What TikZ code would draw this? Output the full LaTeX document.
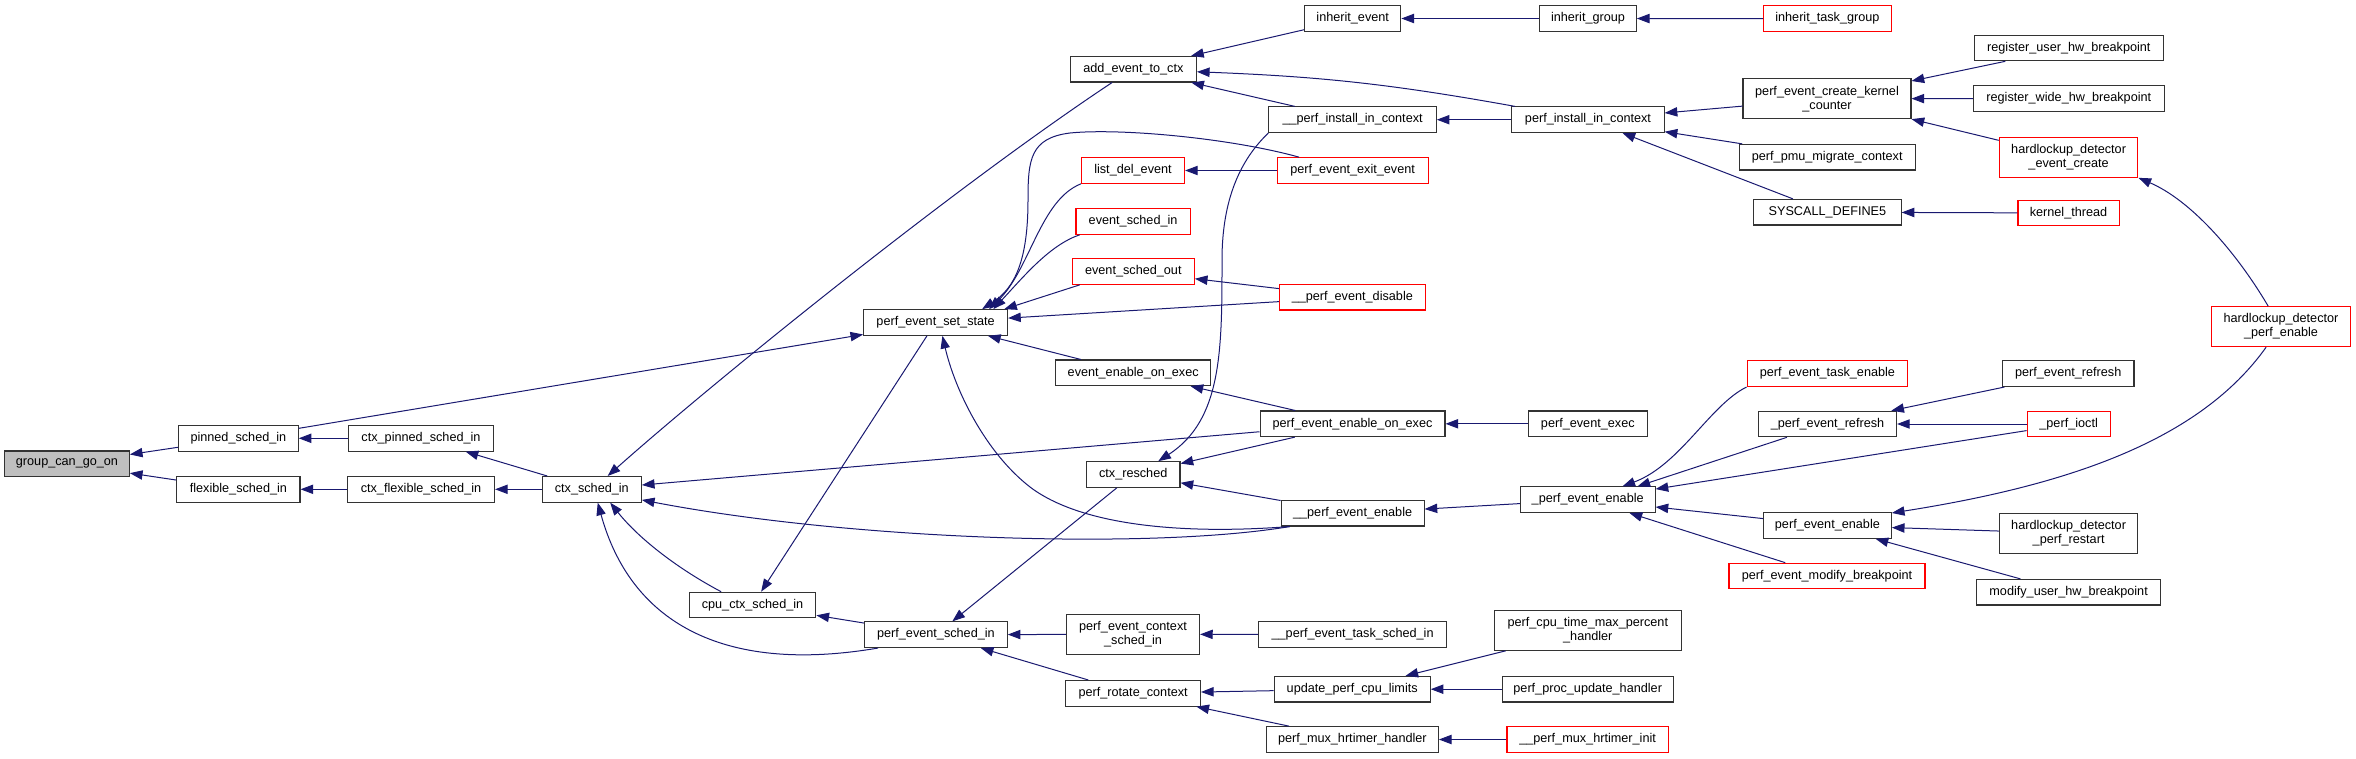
\documentclass[tikz,border=0pt]{standalone}
\usepackage{fontspec}
\setmainfont{Liberation Sans}
\usetikzlibrary{arrows.meta}
\definecolor{edgeblue}{HTML}{191970}
\definecolor{rootgray}{HTML}{BFBFBF}
\newcommand{\fnfont}{\fontsize{9.5}{10.5}\selectfont}

\begin{document}
\begin{tikzpicture}[x=0.75pt, y=0.75pt,
    fn/.style={draw=black!80, fill=white, line width=0.8pt, minimum height=19.2pt, inner xsep=2pt, inner ysep=1pt, font=\fnfont},
    trunc/.style={fn, draw=red},
    root/.style={fn, fill=rootgray},
    twoline/.style={align=center, minimum height=30pt},
    wd/.style={minimum width=#1pt},
    call/.style={draw=edgeblue, line width=0.75pt, -{Triangle[length=9.5pt, width=7pt]}}]
    \useasboundingbox (0,0) rectangle (2356,-759);

    % root and first callers
    \node[root, wd=93.5] (group) at (67,-463.8) {group\_can\_go\_on};
    \node[fn, wd=89.7] (pinned) at (238.4,-438.3) {pinned\_sched\_in};
    \node[fn, wd=92.4] (flexible) at (238.4,-489.3) {flexible\_sched\_in};
    \node[fn, wd=108.2] (ctxpinned) at (421,-438.3) {ctx\_pinned\_sched\_in};
    \node[fn, wd=110.3] (ctxflexible) at (421,-489.3) {ctx\_flexible\_sched\_in};
    \node[fn, wd=74.3] (ctxsched) at (591.8,-489.3) {ctx\_sched\_in};
    \node[fn, wd=95] (cpuctx) at (752.5,-605) {cpu\_ctx\_sched\_in};
    \node[fn, wd=107.9] (setstate) at (935.6,-322.5) {perf\_event\_set\_state};
    \node[fn, wd=107] (schedin) at (935.9,-634.7) {perf\_event\_sched\_in};

    % column of add_event_to_ctx
    \node[fn, wd=94.5] (addevent) at (1133.4,-69.2) {add\_event\_to\_ctx};
    \node[trunc, wd=77.3] (listdel) at (1133,-170.5) {list\_del\_event};
    \node[trunc, wd=85.7] (eventschedin) at (1133.1,-221.5) {event\_sched\_in};
    \node[trunc, wd=91.5] (eventschedout) at (1133.3,-271.5) {event\_sched\_out};
    \node[fn, wd=116.1] (enableonexec) at (1133.2,-372.8) {event\_enable\_on\_exec};
    \node[fn, wd=70.2] (ctxresched) at (1133.2,-474.5) {ctx\_resched};
    \node[fn, twoline, wd=99.8] (contextschedin) at (1133,-634.3) {perf\_event\_context\\\_sched\_in};
    \node[fn, wd=101] (rotate) at (1133.1,-693.3) {perf\_rotate\_context};

    % column of __perf_install_in_context
    \node[fn, wd=72.2] (inheritevent) at (1352.7,-18.5) {inherit\_event};
    \node[fn, wd=125.5] (installctx) at (1352.6,-119.7) {\_\_perf\_install\_in\_context};
    \node[trunc, wd=113.3] (exitevent) at (1352.6,-170.5) {perf\_event\_exit\_event};
    \node[trunc, wd=109.5] (disable) at (1352.3,-297.2) {\_\_perf\_event\_disable};
    \node[fn, wd=138.7] (pfenableonexec) at (1352.5,-423.8) {perf\_event\_enable\_on\_exec};
    \node[fn, wd=107.2] (pfenable) at (1352.6,-513.2) {\_\_perf\_event\_enable};
    \node[fn, wd=140.8] (tasksched) at (1352.6,-634.5) {\_\_perf\_event\_task\_sched\_in};
    \node[fn, wd=117] (cpulimits) at (1352.2,-689.2) {update\_perf\_cpu\_limits};
    \node[fn, wd=128.9] (muxhandler) at (1352.4,-739.5) {perf\_mux\_hrtimer\_handler};

    % column of perf_install_in_context
    \node[fn, wd=72.5] (inheritgroup) at (1588,-18.5) {inherit\_group};
    \node[fn, wd=114.2] (install) at (1588,-119.7) {perf\_install\_in\_context};
    \node[fn, wd=89.4] (exec) at (1587.8,-423.8) {perf\_event\_exec};
    \node[fn, wd=101] (uenable) at (1587.7,-499.7) {\_perf\_event\_enable};
    \node[fn, twoline, wd=140.3] (maxpercent) at (1587.8,-630.3) {perf\_cpu\_time\_max\_percent\\\_handler};
    \node[fn, wd=128] (procupdate) at (1587.7,-689.2) {perf\_proc\_update\_handler};
    \node[trunc, wd=120.9] (muxinit) at (1587.6,-739.5) {\_\_perf\_mux\_hrtimer\_init};

    % column of perf_event_create_kernel_counter
    \node[trunc, wd=95.8] (inherittask) at (1827.4,-18.7) {inherit\_task\_group};
    \node[fn, twoline, wd=126] (kcounter) at (1827,-98.7) {perf\_event\_create\_kernel\\\_counter};
    \node[fn, wd=132] (migrate) at (1827.2,-157.2) {perf\_pmu\_migrate\_context};
    \node[fn, wd=110.5] (syscall) at (1827.4,-212.2) {SYSCALL\_DEFINE5};
    \node[trunc, wd=120.5] (taskenable) at (1827.4,-373.7) {perf\_event\_task\_enable};
    \node[fn, wd=103.5] (urefresh) at (1827.5,-424) {\_perf\_event\_refresh};
    \node[fn, wd=95.8] (enable) at (1827.4,-525.5) {perf\_event\_enable};
    \node[trunc, wd=147] (modifybp) at (1827,-576) {perf\_event\_modify\_breakpoint};

    % outer callers
    \node[fn, wd=141.5] (reguser) at (2068.8,-48) {register\_user\_hw\_breakpoint};
    \node[fn, wd=143.3] (regwide) at (2068.8,-98.5) {register\_wide\_hw\_breakpoint};
    \node[trunc, twoline, wd=104] (hdcreate) at (2068.6,-157.3) {hardlockup\_detector\\\_event\_create};
    \node[trunc, wd=75.8] (kthread) at (2068.5,-213) {kernel\_thread};
    \node[fn, wd=98.7] (refresh) at (2068.2,-373.7) {perf\_event\_refresh};
    \node[trunc, wd=62.2] (ioctl) at (2068.6,-424) {\_perf\_ioctl};
    \node[fn, twoline, wd=104] (hdrestart) at (2068.6,-533.3) {hardlockup\_detector\\\_perf\_restart};
    \node[fn, wd=138.2] (modifyuser) at (2068.6,-592.2) {modify\_user\_hw\_breakpoint};
    \node[trunc, twoline, wd=104.6] (hdenable) at (2281,-326.7) {hardlockup\_detector\\\_perf\_enable};

    % calls into the left part
    \draw[call] (pinned) -- (group);
    \draw[call] (flexible) -- (group);
    \draw[call] (ctxpinned) -- (pinned);
    \draw[call] (ctxflexible) -- (flexible);
    \draw[call] (ctxsched) -- (ctxpinned);
    \draw[call] (ctxsched) -- (ctxflexible);
    \draw[call] (pinned) -- (setstate);
    \draw[call] (setstate) -- (cpuctx);
    \draw[call] (schedin) -- (cpuctx);
    \draw[call] (cpuctx.157) .. controls (680,-570) and (640,-540) .. (ctxsched.-36);
    \draw[call] (schedin.-167) .. controls (720,-675) and (630,-620) .. (ctxsched.-66);
    \draw[call] (addevent.212) .. controls (950,-190) and (710,-385) .. (ctxsched.40);
    \draw[call] (pfenableonexec) -- (ctxsched);
    \draw[call] (pfenable.192) .. controls (1150,-550) and (850,-540) .. (ctxsched.-12);

    % calls into perf_event_set_state
    \draw[call] (exitevent.166) .. controls (1230,-138) and (1120,-128) .. (1070,-133)
        .. controls (1030,-138) and (1028,-160) .. (1028,-200)
        .. controls (1028,-260) and (1015,-288) .. (setstate.16);
    \draw[call] (listdel.south west) .. controls (1040,-200) and (1030,-270) .. (setstate.14);
    \draw[call] (eventschedin.194) .. controls (1050,-245) and (1025,-275) .. (setstate.13);
    \draw[call] (eventschedout.194) -- (setstate.11);
    \draw[call] (disable) -- (setstate);
    \draw[call] (enableonexec) -- (setstate);
    \draw[call] (pfenable.192) .. controls (1180,-535) and (1080,-525) .. (1030,-487)
        .. controls (985,-452) and (955,-390) .. (setstate.-63);

    % middle part
    \draw[call] (inheritevent) -- (addevent);
    \draw[call] (installctx) -- (addevent);
    \draw[call] (install) to[bend right=4] (addevent);
    \draw[call] (inheritgroup) -- (inheritevent);
    \draw[call] (inherittask) -- (inheritgroup);
    \draw[call] (install) -- (installctx);
    \draw[call] (exitevent) -- (listdel);
    \draw[call] (disable) -- (eventschedout);
    \draw[call] (pfenableonexec) -- (enableonexec);
    \draw[call] (pfenableonexec) -- (ctxresched);
    \draw[call] (exec) -- (pfenableonexec);
    \draw[call] (installctx.-171) .. controls (1240,-160) and (1222,-200) .. (1222,-260)
        .. controls (1222,-350) and (1222,-420) .. (ctxresched.28);
    \draw[call] (pfenable) -- (ctxresched);
    \draw[call] (ctxresched) -- (schedin);
    \draw[call] (contextschedin) -- (schedin);
    \draw[call] (rotate) -- (schedin);
    \draw[call] (tasksched) -- (contextschedin);
    \draw[call] (cpulimits) -- (rotate);
    \draw[call] (muxhandler) -- (rotate);
    \draw[call] (maxpercent) -- (cpulimits);
    \draw[call] (procupdate) -- (cpulimits);
    \draw[call] (muxinit) -- (muxhandler);
    \draw[call] (uenable) -- (pfenable);

    % right part
    \draw[call] (kcounter) -- (install);
    \draw[call] (migrate) -- (install);
    \draw[call] (syscall) -- (install);
    \draw[call] (reguser) -- (kcounter);
    \draw[call] (regwide) -- (kcounter);
    \draw[call] (hdcreate) -- (kcounter);
    \draw[call] (kthread) -- (syscall);
    \draw[call] (hdenable.122) .. controls (2235,-250) and (2190,-200) .. (hdcreate.south east);
    \draw[call] (taskenable.south west) .. controls (1710,-405) and (1680,-465) .. (uenable.21);
    \draw[call] (urefresh) -- (uenable.15);
    \draw[call] (ioctl) -- (uenable);
    \draw[call] (enable) -- (uenable);
    \draw[call] (modifybp) -- (uenable);
    \draw[call] (refresh) -- (urefresh);
    \draw[call] (ioctl) -- (urefresh);
    \draw[call] (hdenable.-126) .. controls (2200,-440) and (2070,-485) .. (enable.11);
    \draw[call] (hdrestart) -- (enable);
    \draw[call] (modifyuser) -- (enable);
\end{tikzpicture}
\end{document}
